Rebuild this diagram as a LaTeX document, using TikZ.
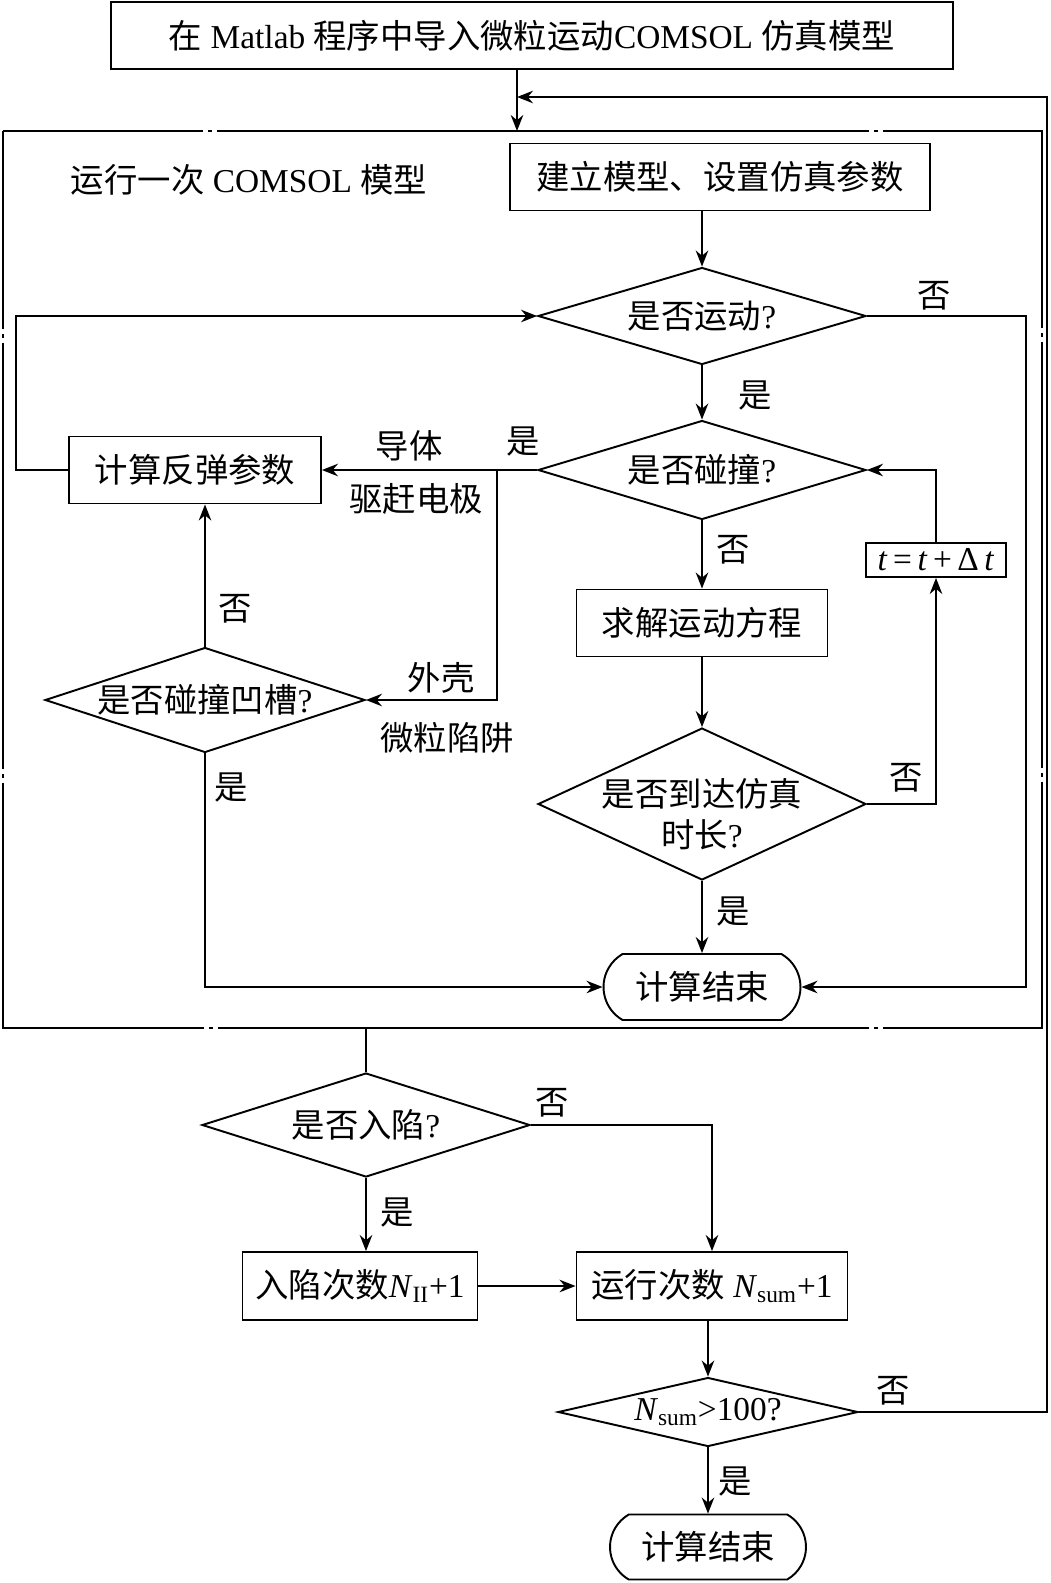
\documentclass[tikz,border=0pt]{standalone}
\usepackage{fontspec}
\setmainfont{Liberation Serif}
\newfontfamily\zh{Noto Sans CJK SC}
\usetikzlibrary{arrows.meta, shapes.geometric, shapes.misc}

\begin{document}
\begin{tikzpicture}[
  x=0.02cm, y=-0.02cm,
  font=\fontsize{19}{23}\selectfont,
  line width=1.1pt,
  arr/.style={-{Stealth[length=3.2mm, width=2.5mm]}},
  box/.style={draw, minimum height=1.34cm, inner sep=0pt},
  decision/.style={draw, diamond, inner sep=0pt},
  term/.style={draw, rounded rectangle, rounded rectangle arc length=120,
               inner sep=0pt},
  lbl/.style={inner sep=0pt},
  frameline/.style={dash pattern=on 4cm off 0.1cm on 0.08cm off 0.1cm
    on 13.04cm off 0.1cm on 0.08cm off 0.1cm
    on 7.12cm off 0.1cm on 0.08cm off 0.1cm
    on 8.52cm off 0.1cm on 0.08cm off 0.1cm
    on 8.1cm off 0.1cm on 0.08cm off 0.1cm
    on 13.04cm off 0.1cm on 0.08cm off 0.1cm
    on 8.92cm off 0.1cm on 0.08cm off 0.1cm
    on 8.52cm off 0.1cm on 0.08cm off 0.1cm
    on 5cm}]

  \useasboundingbox (0,0) rectangle (1051,1583);

  \node[box, minimum width=16.84cm] (top) at (532,35.5)
    {{\zh 在} Matlab {\zh 程序中导入微粒运动}COMSOL {\zh 仿真模型}};

  \coordinate (fnw) at (3,131);
  \coordinate (fne) at (1042,131);
  \coordinate (fse) at (1042,1028);
  \coordinate (fsw) at (3,1028);
  \draw[frameline] (fnw) -- (fne) -- (fse) -- (fsw) -- cycle;

  \node[lbl] (title) at (249,180) {{\zh 运行一次} COMSOL {\zh 模型}};
  \node[box, minimum width=8.4cm] (setup) at (720,177)
    {\zh 建立模型、设置仿真参数};
  \node[decision, minimum width=6.56cm, minimum height=1.94cm,
        label=center:{{\zh 是否运动}?}] (move) at (702,316) {};
  \node[decision, minimum width=6.56cm, minimum height=1.98cm,
        label=center:{{\zh 是否碰撞}?}] (coll) at (702,470) {};
  \node[box, minimum width=5.04cm] (bounce) at (195,470) {\zh 计算反弹参数};
  \node[decision, minimum width=6.4cm, minimum height=2.1cm,
        label=center:{{\zh 是否碰撞凹槽}?}] (groove) at (205,700) {};
  \node[box, minimum width=5.02cm] (solve) at (702,623) {\zh 求解运动方程};
  \node[decision, minimum width=6.56cm, minimum height=3.04cm,
        label={[align=center, yshift=-0.2cm]center:{\zh 是否到达仿真}\\{\zh 时长}?}]
        (reach) at (702,804) {};
  \node[box, minimum width=2.8cm, minimum height=0.68cm] (tbox) at (936,560)
    {\textit{t}\,=\,\textit{t}\,+\,Δ\,\textit{t}};
  \node[term, minimum width=3.94cm, minimum height=1.32cm] (end1) at (702,987)
    {\zh 计算结束};

  \node[decision, minimum width=6.56cm, minimum height=2.08cm,
        label=center:{{\zh 是否入陷}?}] (trap) at (366,1125) {};
  \node[box, minimum width=4.7cm, minimum height=1.36cm] (ntrap) at (360,1286)
    {{\zh 入陷次数}\textit{N}\textsubscript{II}+1};
  \node[box, minimum width=5.42cm, minimum height=1.36cm] (run) at (712,1286)
    {{\zh 运行次数} \textit{N}\textsubscript{sum}+1};
  \node[decision, minimum width=6cm, minimum height=1.38cm,
        label=center:{\textit{N}\textsubscript{sum}>100?}] (nsum) at (708,1412) {};
  \node[term, minimum width=3.92cm, minimum height=1.3cm] (end2) at (708,1547)
    {\zh 计算结束};

  \node[lbl] (no1) at (934,296) {\zh 否};
  \node[lbl] (yes1) at (755,396) {\zh 是};
  \node[lbl] (yes2) at (523,442) {\zh 是};
  \node[lbl] (cond) at (409,446) {\zh 导体};
  \node[lbl] (elec) at (416,499) {\zh 驱赶电极};
  \node[lbl] (shell) at (441,678) {\zh 外壳};
  \node[lbl] (ptrap) at (447,738) {\zh 微粒陷阱};
  \node[lbl] (no2) at (235,609) {\zh 否};
  \node[lbl] (yes3) at (231,788) {\zh 是};
  \node[lbl] (no3) at (733,550) {\zh 否};
  \node[lbl] (no4) at (906,778) {\zh 否};
  \node[lbl] (yes4) at (733,912) {\zh 是};
  \node[lbl] (no5) at (552,1103) {\zh 否};
  \node[lbl] (yes5) at (397,1212) {\zh 是};
  \node[lbl] (no6) at (893,1391) {\zh 否};
  \node[lbl] (yes6) at (735,1481) {\zh 是};

  \coordinate (entry) at (517,131);
  \coordinate (ret) at (517,97);
  \coordinate (rr) at (1047,97);
  \coordinate (br) at (497,470);

  \draw[arr] (top.south -| entry) -- (entry);
  \draw[arr] (nsum.east) -| (rr) -- (ret);
  \draw[arr] (setup.south -| move.north) -- (move.north);
  \draw[arr] (move.south) -- (coll.north);
  \draw[arr] (move.east) -- ++(159,0) |- (end1.east);
  \draw[arr] (coll.west) -- (bounce.east);
  \draw[arr] (br) |- (groove.east);
  \draw[arr] (groove.north) -- (groove.north |- bounce.south);
  \draw[arr] (bounce.west) -- ++(-52,0) |- (move.west);
  \draw[arr] (groove.south) |- (end1.west);
  \draw[arr] (coll.south) -- (solve.north);
  \draw[arr] (solve.south) -- (reach.north);
  \draw[arr] (reach.east) -| (tbox.south);
  \draw[arr] (tbox.north) |- (coll.east);
  \draw[arr] (reach.south) -- (end1.north);
  \draw (trap.north |- fsw) -- (trap.north);
  \draw[arr] (trap.east) -| (run.north);
  \draw[arr] (trap.south) -- (trap.south |- ntrap.north);
  \draw[arr] (ntrap.east) -- (run.west);
  \draw[arr] (run.south -| nsum.north) -- (nsum.north);
  \draw[arr] (nsum.south) -- (end2.north);
\end{tikzpicture}
\end{document}
